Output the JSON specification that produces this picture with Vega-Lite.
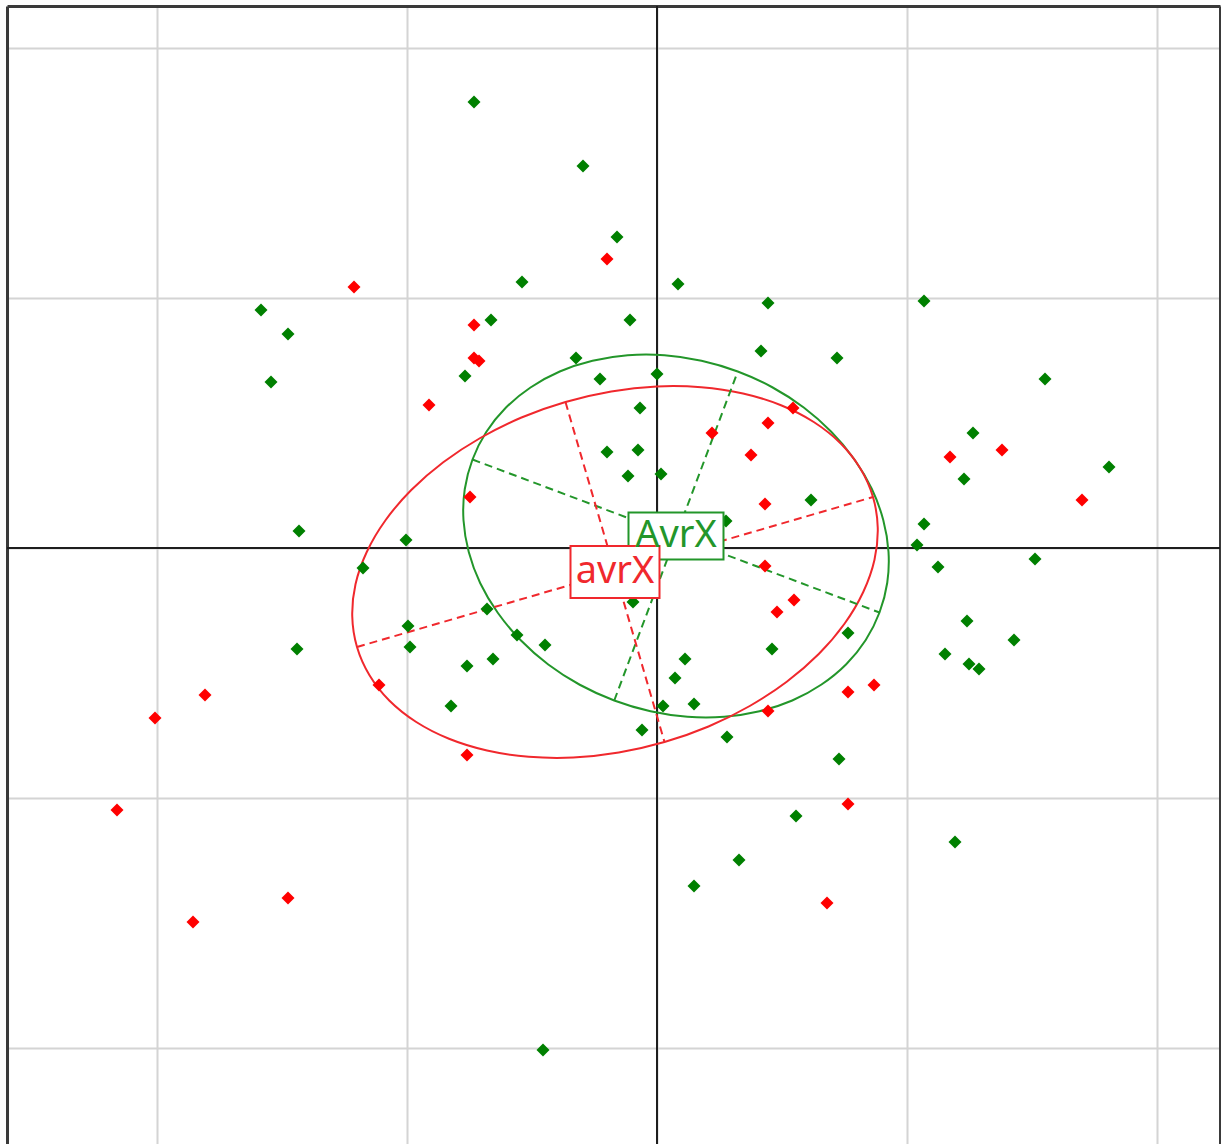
{
  "$schema": "https://vega.github.io/schema/vega-lite/v6.json",
  "width": 1213,
  "height": 1138,
  "padding": {"left": 7, "top": 6, "right": 1, "bottom": 0},
  "autosize": {"type": "none"},
  "background": "white",
  "config": {"view": {"stroke": null}},
  "datasets": {
    "centers": [
      {"g": "AvrX", "label": "AvrX", "x": 0.076, "y": 0.048},
      {"g": "avrX", "label": "avrX", "x": -0.168, "y": -0.096}
    ],
    "origin": [
      {"x": 0, "y": 0}
    ],
    "points": [
      {"g": "AvrX", "x": -0.732, "y": 1.784},
      {"g": "AvrX", "x": -0.296, "y": 1.528},
      {"g": "AvrX", "x": -0.160, "y": 1.244},
      {"g": "AvrX", "x": -0.540, "y": 1.064},
      {"g": "AvrX", "x": 0.084, "y": 1.056},
      {"g": "AvrX", "x": -1.584, "y": 0.952},
      {"g": "AvrX", "x": -1.476, "y": 0.856},
      {"g": "AvrX", "x": -0.664, "y": 0.912},
      {"g": "AvrX", "x": -0.108, "y": 0.912},
      {"g": "AvrX", "x": 0.444, "y": 0.980},
      {"g": "AvrX", "x": 1.068, "y": 0.988},
      {"g": "AvrX", "x": -1.544, "y": 0.664},
      {"g": "AvrX", "x": -0.768, "y": 0.688},
      {"g": "AvrX", "x": -0.324, "y": 0.760},
      {"g": "AvrX", "x": -0.228, "y": 0.676},
      {"g": "AvrX", "x": 0.000, "y": 0.696},
      {"g": "AvrX", "x": 0.416, "y": 0.788},
      {"g": "AvrX", "x": 0.720, "y": 0.760},
      {"g": "AvrX", "x": 1.552, "y": 0.676},
      {"g": "AvrX", "x": -0.068, "y": 0.560},
      {"g": "AvrX", "x": 1.264, "y": 0.460},
      {"g": "AvrX", "x": -0.200, "y": 0.384},
      {"g": "AvrX", "x": -0.076, "y": 0.392},
      {"g": "AvrX", "x": -0.116, "y": 0.288},
      {"g": "AvrX", "x": 0.016, "y": 0.296},
      {"g": "AvrX", "x": 1.228, "y": 0.276},
      {"g": "AvrX", "x": 1.808, "y": 0.324},
      {"g": "AvrX", "x": 0.616, "y": 0.192},
      {"g": "AvrX", "x": -1.432, "y": 0.068},
      {"g": "AvrX", "x": -1.004, "y": 0.032},
      {"g": "AvrX", "x": 1.068, "y": 0.096},
      {"g": "AvrX", "x": 1.040, "y": 0.012},
      {"g": "AvrX", "x": 1.512, "y": -0.044},
      {"g": "AvrX", "x": -1.176, "y": -0.080},
      {"g": "AvrX", "x": 1.124, "y": -0.076},
      {"g": "AvrX", "x": -0.096, "y": -0.216},
      {"g": "AvrX", "x": -0.680, "y": -0.244},
      {"g": "AvrX", "x": 1.240, "y": -0.292},
      {"g": "AvrX", "x": -0.996, "y": -0.312},
      {"g": "AvrX", "x": -0.988, "y": -0.396},
      {"g": "AvrX", "x": -0.560, "y": -0.348},
      {"g": "AvrX", "x": -0.448, "y": -0.388},
      {"g": "AvrX", "x": 0.764, "y": -0.340},
      {"g": "AvrX", "x": 1.428, "y": -0.368},
      {"g": "AvrX", "x": -1.440, "y": -0.404},
      {"g": "AvrX", "x": 0.460, "y": -0.404},
      {"g": "AvrX", "x": 1.152, "y": -0.424},
      {"g": "AvrX", "x": 1.248, "y": -0.464},
      {"g": "AvrX", "x": 1.288, "y": -0.484},
      {"g": "AvrX", "x": 0.112, "y": -0.444},
      {"g": "AvrX", "x": -0.760, "y": -0.472},
      {"g": "AvrX", "x": -0.656, "y": -0.444},
      {"g": "AvrX", "x": 0.072, "y": -0.520},
      {"g": "AvrX", "x": -0.824, "y": -0.632},
      {"g": "AvrX", "x": 0.024, "y": -0.632},
      {"g": "AvrX", "x": 0.148, "y": -0.624},
      {"g": "AvrX", "x": -0.060, "y": -0.728},
      {"g": "AvrX", "x": 0.280, "y": -0.756},
      {"g": "AvrX", "x": 0.728, "y": -0.844},
      {"g": "AvrX", "x": 0.556, "y": -1.072},
      {"g": "AvrX", "x": 0.328, "y": -1.248},
      {"g": "AvrX", "x": 1.192, "y": -1.176},
      {"g": "AvrX", "x": 0.148, "y": -1.352},
      {"g": "AvrX", "x": -0.456, "y": -2.008},
      {"g": "AvrX", "x": 0.276, "y": 0.108},
      {"g": "avrX", "x": -0.200, "y": 1.156},
      {"g": "avrX", "x": -1.212, "y": 1.044},
      {"g": "avrX", "x": -0.732, "y": 0.892},
      {"g": "avrX", "x": -0.732, "y": 0.760},
      {"g": "avrX", "x": -0.712, "y": 0.748},
      {"g": "avrX", "x": -0.912, "y": 0.572},
      {"g": "avrX", "x": -0.748, "y": 0.204},
      {"g": "avrX", "x": 0.220, "y": 0.460},
      {"g": "avrX", "x": 0.444, "y": 0.500},
      {"g": "avrX", "x": 0.376, "y": 0.372},
      {"g": "avrX", "x": 0.544, "y": 0.560},
      {"g": "avrX", "x": 1.172, "y": 0.364},
      {"g": "avrX", "x": 1.380, "y": 0.392},
      {"g": "avrX", "x": 1.700, "y": 0.192},
      {"g": "avrX", "x": 0.432, "y": 0.176},
      {"g": "avrX", "x": 0.432, "y": -0.072},
      {"g": "avrX", "x": 0.548, "y": -0.208},
      {"g": "avrX", "x": 0.480, "y": -0.256},
      {"g": "avrX", "x": 0.444, "y": -0.652},
      {"g": "avrX", "x": 0.764, "y": -0.576},
      {"g": "avrX", "x": 0.868, "y": -0.548},
      {"g": "avrX", "x": -1.112, "y": -0.548},
      {"g": "avrX", "x": -0.760, "y": -0.828},
      {"g": "avrX", "x": -1.808, "y": -0.588},
      {"g": "avrX", "x": -2.008, "y": -0.680},
      {"g": "avrX", "x": -2.160, "y": -1.048},
      {"g": "avrX", "x": -1.476, "y": -1.400},
      {"g": "avrX", "x": -1.856, "y": -1.496},
      {"g": "avrX", "x": 0.764, "y": -1.024},
      {"g": "avrX", "x": 0.680, "y": -1.420}
    ],
    "ellipses": [
      {"g": "AvrX", "t": 0, "x": 0.890, "y": -0.258},
      {"g": "AvrX", "t": 10, "x": 0.921, "y": -0.139},
      {"g": "AvrX", "t": 20, "x": 0.926, "y": -0.015},
      {"g": "AvrX", "t": 30, "x": 0.905, "y": 0.112},
      {"g": "AvrX", "t": 40, "x": 0.859, "y": 0.237},
      {"g": "AvrX", "t": 50, "x": 0.789, "y": 0.355},
      {"g": "AvrX", "t": 60, "x": 0.697, "y": 0.465},
      {"g": "AvrX", "t": 70, "x": 0.587, "y": 0.562},
      {"g": "AvrX", "t": 80, "x": 0.461, "y": 0.643},
      {"g": "AvrX", "t": 90, "x": 0.323, "y": 0.706},
      {"g": "AvrX", "t": 100, "x": 0.178, "y": 0.749},
      {"g": "AvrX", "t": 110, "x": 0.030, "y": 0.771},
      {"g": "AvrX", "t": 120, "x": -0.117, "y": 0.771},
      {"g": "AvrX", "t": 130, "x": -0.258, "y": 0.749},
      {"g": "AvrX", "t": 140, "x": -0.389, "y": 0.706},
      {"g": "AvrX", "t": 150, "x": -0.506, "y": 0.642},
      {"g": "AvrX", "t": 160, "x": -0.605, "y": 0.561},
      {"g": "AvrX", "t": 170, "x": -0.683, "y": 0.464},
      {"g": "AvrX", "t": 180, "x": -0.738, "y": 0.354},
      {"g": "AvrX", "t": 190, "x": -0.769, "y": 0.235},
      {"g": "AvrX", "t": 200, "x": -0.774, "y": 0.111},
      {"g": "AvrX", "t": 210, "x": -0.753, "y": -0.016},
      {"g": "AvrX", "t": 220, "x": -0.707, "y": -0.141},
      {"g": "AvrX", "t": 230, "x": -0.637, "y": -0.259},
      {"g": "AvrX", "t": 240, "x": -0.545, "y": -0.369},
      {"g": "AvrX", "t": 250, "x": -0.435, "y": -0.466},
      {"g": "AvrX", "t": 260, "x": -0.309, "y": -0.547},
      {"g": "AvrX", "t": 270, "x": -0.171, "y": -0.610},
      {"g": "AvrX", "t": 280, "x": -0.026, "y": -0.653},
      {"g": "AvrX", "t": 290, "x": 0.122, "y": -0.675},
      {"g": "AvrX", "t": 300, "x": 0.269, "y": -0.675},
      {"g": "AvrX", "t": 310, "x": 0.410, "y": -0.653},
      {"g": "AvrX", "t": 320, "x": 0.541, "y": -0.610},
      {"g": "AvrX", "t": 330, "x": 0.658, "y": -0.546},
      {"g": "AvrX", "t": 340, "x": 0.757, "y": -0.465},
      {"g": "AvrX", "t": 350, "x": 0.835, "y": -0.368},
      {"g": "avrX", "t": 0, "x": 0.864, "y": 0.204},
      {"g": "avrX", "t": 10, "x": 0.814, "y": 0.317},
      {"g": "avrX", "t": 20, "x": 0.735, "y": 0.418},
      {"g": "avrX", "t": 30, "x": 0.627, "y": 0.504},
      {"g": "avrX", "t": 40, "x": 0.496, "y": 0.571},
      {"g": "avrX", "t": 50, "x": 0.344, "y": 0.618},
      {"g": "avrX", "t": 60, "x": 0.177, "y": 0.643},
      {"g": "avrX", "t": 70, "x": -0.001, "y": 0.646},
      {"g": "avrX", "t": 80, "x": -0.183, "y": 0.626},
      {"g": "avrX", "t": 90, "x": -0.366, "y": 0.584},
      {"g": "avrX", "t": 100, "x": -0.542, "y": 0.522},
      {"g": "avrX", "t": 110, "x": -0.707, "y": 0.440},
      {"g": "avrX", "t": 120, "x": -0.855, "y": 0.343},
      {"g": "avrX", "t": 130, "x": -0.983, "y": 0.232},
      {"g": "avrX", "t": 140, "x": -1.086, "y": 0.111},
      {"g": "avrX", "t": 150, "x": -1.161, "y": -0.016},
      {"g": "avrX", "t": 160, "x": -1.206, "y": -0.145},
      {"g": "avrX", "t": 170, "x": -1.219, "y": -0.273},
      {"g": "avrX", "t": 180, "x": -1.200, "y": -0.396},
      {"g": "avrX", "t": 190, "x": -1.150, "y": -0.509},
      {"g": "avrX", "t": 200, "x": -1.071, "y": -0.610},
      {"g": "avrX", "t": 210, "x": -0.963, "y": -0.696},
      {"g": "avrX", "t": 220, "x": -0.832, "y": -0.763},
      {"g": "avrX", "t": 230, "x": -0.680, "y": -0.810},
      {"g": "avrX", "t": 240, "x": -0.513, "y": -0.835},
      {"g": "avrX", "t": 250, "x": -0.335, "y": -0.838},
      {"g": "avrX", "t": 260, "x": -0.153, "y": -0.818},
      {"g": "avrX", "t": 270, "x": 0.030, "y": -0.776},
      {"g": "avrX", "t": 280, "x": 0.206, "y": -0.714},
      {"g": "avrX", "t": 290, "x": 0.371, "y": -0.632},
      {"g": "avrX", "t": 300, "x": 0.519, "y": -0.535},
      {"g": "avrX", "t": 310, "x": 0.647, "y": -0.424},
      {"g": "avrX", "t": 320, "x": 0.750, "y": -0.303},
      {"g": "avrX", "t": 330, "x": 0.825, "y": -0.176},
      {"g": "avrX", "t": 340, "x": 0.870, "y": -0.047},
      {"g": "avrX", "t": 350, "x": 0.883, "y": 0.081}
    ],
    "axes": [
      {"g": "AvrX", "x": -0.738, "y": 0.354, "x2": 0.890, "y2": -0.258},
      {"g": "AvrX", "x": -0.171, "y": -0.610, "x2": 0.323, "y2": 0.706},
      {"g": "avrX", "x": -1.200, "y": -0.396, "x2": 0.864, "y2": 0.204},
      {"g": "avrX", "x": -0.366, "y": 0.584, "x2": 0.030, "y2": -0.776}
    ]
  },
  "layer": [
    {
      "data": {"name": "points"},
      "mark": {"type": "point", "opacity": 0},
      "encoding": {
        "x": {"field": "x", "type": "quantitative",
              "scale": {"domain": [-2.6, 2.252], "nice": false, "zero": false},
              "axis": {"title": null, "labels": false, "ticks": false, "values": [-2, -1, 0, 1, 2],
                       "grid": true, "gridColor": "#d4d4d4", "gridWidth": 2, "domain": false}},
        "y": {"field": "y", "type": "quantitative",
              "scale": {"domain": [-2.384, 2.168], "nice": false, "zero": false},
              "axis": {"orient": "left", "title": null, "labels": false, "ticks": false, "values": [-2, -1, 0, 1, 2],
                       "grid": true, "gridColor": "#d4d4d4", "gridWidth": 2,
                       "domain": true, "domainColor": "#3a3a3a", "domainWidth": 3}}
      }
    },
    {
      "data": {"name": "centers"},
      "mark": {"type": "point", "opacity": 0},
      "encoding": {
        "x": {"field": "x", "type": "quantitative",
              "scale": {"domain": [-2.6, 2.252], "nice": false, "zero": false},
              "axis": {"orient": "top", "title": null, "labels": false, "ticks": false, "grid": false,
                       "domain": true, "domainColor": "#3a3a3a", "domainWidth": 3}},
        "y": {"field": "y", "type": "quantitative",
              "scale": {"domain": [-2.384, 2.168], "nice": false, "zero": false},
              "axis": {"orient": "right", "title": null, "labels": false, "ticks": false, "grid": false,
                       "domain": true, "domainColor": "#3a3a3a", "domainWidth": 3}}
      }
    },
    {
      "data": {"name": "origin"},
      "mark": {"type": "rule", "color": "#1e1e1e", "strokeWidth": 2},
      "encoding": {"x": {"field": "x", "type": "quantitative", "scale": {"domain": [-2.6, 2.252], "nice": false, "zero": false}, "axis": null}}
    },
    {
      "data": {"name": "origin"},
      "mark": {"type": "rule", "color": "#1e1e1e", "strokeWidth": 2},
      "encoding": {"y": {"field": "y", "type": "quantitative", "scale": {"domain": [-2.384, 2.168], "nice": false, "zero": false}, "axis": null}}
    },
    {
      "data": {"name": "ellipses"},
      "mark": {"type": "line", "interpolate": "cardinal-closed", "strokeWidth": 2},
      "encoding": {
        "x": {"field": "x", "type": "quantitative", "scale": {"domain": [-2.6, 2.252], "nice": false, "zero": false}, "axis": null},
        "y": {"field": "y", "type": "quantitative", "scale": {"domain": [-2.384, 2.168], "nice": false, "zero": false}, "axis": null},
        "order": {"field": "t", "type": "quantitative"},
        "detail": {"field": "g"},
        "color": {"field": "g", "type": "nominal", "scale": {"domain": ["AvrX", "avrX"], "range": ["#23962a", "#f0282d"]}, "legend": null}
      }
    },
    {
      "data": {"name": "axes"},
      "mark": {"type": "rule", "strokeWidth": 2, "strokeDash": [8, 5]},
      "encoding": {
        "x": {"field": "x", "type": "quantitative", "scale": {"domain": [-2.6, 2.252], "nice": false, "zero": false}, "axis": null},
        "y": {"field": "y", "type": "quantitative", "scale": {"domain": [-2.384, 2.168], "nice": false, "zero": false}, "axis": null},
        "x2": {"field": "x2"},
        "y2": {"field": "y2"},
        "color": {"field": "g", "type": "nominal", "scale": {"domain": ["AvrX", "avrX"], "range": ["#23962a", "#f0282d"]}, "legend": null}
      }
    },
    {
      "data": {"name": "points"},
      "mark": {"type": "point", "shape": "diamond", "filled": true, "opacity": 1, "size": 170},
      "encoding": {
        "x": {"field": "x", "type": "quantitative", "scale": {"domain": [-2.6, 2.252], "nice": false, "zero": false}, "axis": null},
        "y": {"field": "y", "type": "quantitative", "scale": {"domain": [-2.384, 2.168], "nice": false, "zero": false}, "axis": null},
        "fill": {"field": "g", "type": "nominal", "scale": {"domain": ["AvrX", "avrX"], "range": ["#008000", "#ff0000"]}, "legend": null}
      }
    },
    {
      "data": {"name": "centers"},
      "transform": [{"filter": "datum.g === 'AvrX'"}],
      "mark": {"type": "point", "shape": "M-1,-0.495H1V0.495H-1Z", "size": 9025, "filled": false, "fill": "white", "fillOpacity": 1, "stroke": "#23962a", "strokeWidth": 2, "opacity": 1},
      "encoding": {
        "x": {"field": "x", "type": "quantitative", "scale": {"domain": [-2.6, 2.252], "nice": false, "zero": false}, "axis": null},
        "y": {"field": "y", "type": "quantitative", "scale": {"domain": [-2.384, 2.168], "nice": false, "zero": false}, "axis": null}
      }
    },
    {
      "data": {"name": "centers"},
      "transform": [{"filter": "datum.g === 'avrX'"}],
      "mark": {"type": "point", "shape": "M-1,-0.584H1V0.584H-1Z", "size": 7921, "filled": false, "fill": "white", "fillOpacity": 1, "stroke": "#f0282d", "strokeWidth": 2, "opacity": 1},
      "encoding": {
        "x": {"field": "x", "type": "quantitative", "scale": {"domain": [-2.6, 2.252], "nice": false, "zero": false}, "axis": null},
        "y": {"field": "y", "type": "quantitative", "scale": {"domain": [-2.384, 2.168], "nice": false, "zero": false}, "axis": null}
      }
    },
    {
      "data": {"name": "centers"},
      "mark": {"type": "text", "font": "Noto Sans", "fontSize": 38, "align": "center", "baseline": "middle", "dy": 0},
      "encoding": {
        "x": {"field": "x", "type": "quantitative", "scale": {"domain": [-2.6, 2.252], "nice": false, "zero": false}, "axis": null},
        "y": {"field": "y", "type": "quantitative", "scale": {"domain": [-2.384, 2.168], "nice": false, "zero": false}, "axis": null},
        "text": {"field": "label"},
        "color": {"field": "g", "type": "nominal", "scale": {"domain": ["AvrX", "avrX"], "range": ["#23962a", "#f0282d"]}, "legend": null}
      }
    }
  ],
  "resolve": {"axis": {"x": "independent", "y": "independent"}}
}
